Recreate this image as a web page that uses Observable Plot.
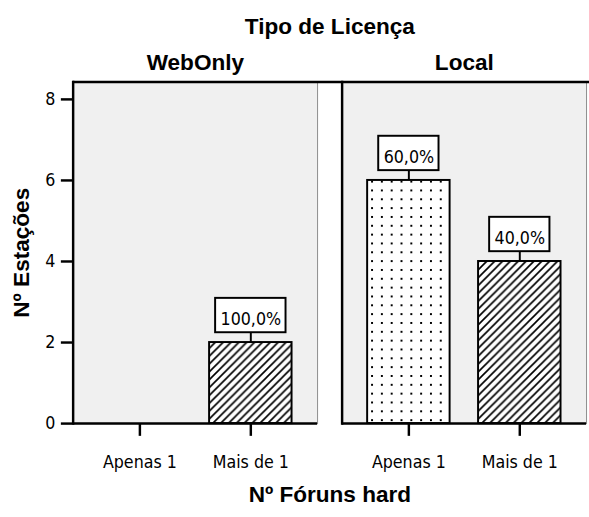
<!DOCTYPE html>
<html><head><meta charset="utf-8">
<script src="https://cdn.jsdelivr.net/npm/d3@7"></script>
<script src="https://cdn.jsdelivr.net/npm/@observablehq/plot@0.6"></script>
<style>
html,body{margin:0;padding:0;background:#fff;}
#chart{width:589px;height:517px;overflow:hidden;position:relative;}
#chart svg{display:block;}
#chart [aria-label="y-axis label"] text,
#chart [aria-label="x-axis label"] text,
#chart [aria-label="fx-axis label"] text {font: bold 23px "Liberation Sans", Arial, sans-serif !important;}
</style>
</head><body>
<svg width="0" height="0" style="position:absolute">
<defs>
<pattern id="hatch" patternUnits="userSpaceOnUse" width="8" height="8">
 <rect width="8" height="8" fill="white"/>
 <path d="M-2,2 l4,-4 M0,8 l8,-8 M6,10 l4,-4" stroke="black" stroke-width="1.7"/>
</pattern>
<pattern id="dots" patternUnits="userSpaceOnUse" width="10" height="9">
 <rect width="10" height="9" fill="white"/>
 <rect x="4" y="4" width="2" height="2" fill="black"/>
</pattern>
</defs></svg>
<div id="chart"></div>
<script>
// ---- data ----
const licencas = ["WebOnly", "Local"];
const foruns = ["Apenas 1", "Mais de 1"];
const estacoesWebOnly = [0, 2];
const estacoesLocal = [6, 4];
const yTicks = [0, 2, 4, 6, 8];

// ---- table ----
const series = [estacoesWebOnly, estacoesLocal];
const dados = licencas.flatMap((lic, j) => {
  const total = d3.sum(series[j]);
  return foruns.map((f, i) => ({
    licenca: lic, forum: f, n: series[j][i],
    label: (series[j][i] / total * 100).toFixed(1).replace(".", ",") + "%"
  }));
});
const comBarra = dados.filter(d => d.n > 0);

// ---- layout ----
const FONT = '"DejaVu Sans Condensed", "Liberation Sans Narrow", Arial, sans-serif';
const FS = 18;
const panelW = 249, gap = 25;
const xPadIn = 0.2566, xPadOut = 0.23;
const bandPx = panelW * (1 - xPadIn) / (2 - xPadIn + 2 * xPadOut);
const yMax = 8.43;

const ctx = document.createElement("canvas").getContext("2d");
ctx.font = FS + "px " + FONT;
const boxW = t => ctx.measureText(t).width + 10;

const caixas = comBarra.map(d => {
  const inset = (bandPx - boxW(d.label)) / 2;
  return Plot.barY([d], {
    fx: "licenca", x: "forum", y1: "n", y2: "n",
    insetTop: -45, insetBottom: 10, insetLeft: inset, insetRight: inset,
    fill: "white", stroke: "black", strokeWidth: 2
  });
});

const chart = Plot.plot({
  width: 600, height: 517,
  marginLeft: 74, marginRight: 3, marginTop: 83, marginBottom: 86,
  style: {fontFamily: FONT, fontSize: FS + "px", color: "black", background: "white"},
  fx: {domain: licencas, paddingInner: gap / (panelW + gap), paddingOuter: 0, label: "Tipo de Licença"},
  x: {domain: foruns, paddingInner: xPadIn, paddingOuter: xPadOut, label: "Nº Fóruns hard"},
  y: {domain: [0, yMax], label: "Nº Estações"},
  color: {domain: foruns, range: ["url(#dots)", "url(#hatch)"]},
  marks: [
    Plot.frame({fill: "#f0f0f0", stroke: "#8c8c8c", strokeWidth: 1}),
    Plot.barY(comBarra, {fx: "licenca", x: "forum", y: "n", fill: "forum", stroke: "black", strokeWidth: 2}),
    Plot.ruleY([0], {stroke: "black", strokeWidth: 2.5}),
    Plot.ruleY([yMax], {stroke: "black", strokeWidth: 2.5, insetRight: -gap}),
    Plot.frame({anchor: "left", stroke: "black", strokeWidth: 2.5}),
    Plot.ruleX(comBarra, {fx: "licenca", x: "forum", y1: "n", y2: "n", insetTop: -10, insetBottom: 0, stroke: "black", strokeWidth: 2}),
    ...caixas,
    Plot.text(comBarra, {fx: "licenca", x: "forum", y: "n", text: "label", dy: -24, lineAnchor: "middle", fontSize: FS, fill: "black"}),
    Plot.axisY({ticks: yTicks, tickSize: 12, tickPadding: 6, strokeWidth: 2.5, fontSize: FS,
      label: "Nº Estações", labelAnchor: "center", labelOffset: 61, labelArrow: "none"}),
    Plot.axisX({tickSize: 13, tickPadding: 19, strokeWidth: 2.5, fontSize: FS,
      label: "Nº Fóruns hard", labelAnchor: "center", labelOffset: 80, labelArrow: "none"}),
    Plot.axisFx({anchor: "top", tickSize: 0, tickPadding: 12, fontSize: 23, fontWeight: "bold",
      fontFamily: '"Liberation Sans", Arial, sans-serif',
      label: "Tipo de Licença", labelAnchor: "center", labelOffset: 65, labelArrow: "none"})
  ]
});
document.getElementById("chart").appendChild(chart);
</script>
</body></html>
